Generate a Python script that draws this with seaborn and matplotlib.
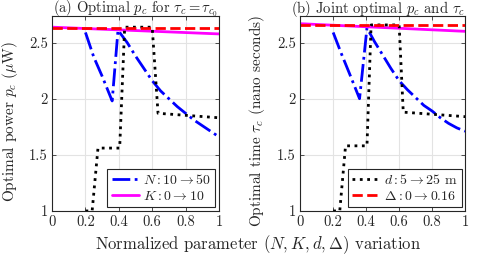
import numpy as np
import pandas as pd
import matplotlib
matplotlib.use("Agg")
import matplotlib.pyplot as plt
import seaborn as sns

# ---- data ----
# Panel (a)
a_N_x = [0.2, 0.25, 0.3, 0.36, 0.395, 0.45, 0.5, 0.55, 0.6, 0.65, 0.7, 0.75, 0.8, 0.85, 0.9, 0.95, 1.0]
a_N_y = [2.59, 2.37, 2.20, 1.98, 2.61, 2.50, 2.38, 2.27, 2.16, 2.07, 2.00, 1.93, 1.87, 1.81, 1.76, 1.71, 1.66]
a_K_x = [0.0, 1.0]
a_K_y = [2.637, 2.577]
a_d_x = [0.2, 0.24, 0.275, 0.405, 0.435, 0.6, 0.635, 1.0]
a_d_y = [1.0, 1.0, 1.56, 1.56, 2.637, 2.637, 1.87, 1.83]
a_D_x = [0.0, 1.0]
a_D_y = [2.628, 2.628]

# Panel (b)
b_N_x = [0.2, 0.25, 0.3, 0.36, 0.405, 0.45, 0.5, 0.55, 0.6, 0.65, 0.7, 0.75, 0.8, 0.85, 0.9, 0.95, 1.0]
b_N_y = [2.59, 2.40, 2.22, 2.00, 2.63, 2.51, 2.39, 2.27, 2.16, 2.08, 2.01, 1.94, 1.89, 1.83, 1.78, 1.74, 1.71]
b_K_x = [0.0, 1.0]
b_K_y = [2.668, 2.600]
b_d_x = [0.2, 0.24, 0.275, 0.405, 0.43, 0.6, 0.625, 1.0]
b_d_y = [1.0, 1.0, 1.58, 1.58, 2.657, 2.657, 1.88, 1.84]
b_D_x = [0.0, 1.0]
b_D_y = [2.652, 2.652]

labels = [r"$N: 10 \rightarrow 50$", r"$K: 0 \rightarrow 10$",
          r"$d: 5 \rightarrow 25$ m", r"$\Delta: 0 \rightarrow 0.16$"]
xticks = [0, 0.2, 0.4, 0.6, 0.8, 1]
xticklabels = ["0", "0.2", "0.4", "0.6", "0.8", "1"]
yticks = [1, 1.5, 2, 2.5]
yticklabels = ["1", "1.5", "2", "2.5"]

sns.set_theme(style="whitegrid")
plt.rcParams["font.family"] = ["cmr10", "DejaVu Serif"]
plt.rcParams["mathtext.fontset"] = "cm"
plt.rcParams["axes.formatter.use_mathtext"] = True
plt.rcParams["axes.unicode_minus"] = False

fs_tick = 10.5
fs_title = 10.5
fs_ylab = 11
fs_xlab = 12
fs_leg = 10

fig = plt.figure(figsize=(4.78, 2.56), dpi=100)
axL = fig.add_axes([0.109, 0.176, 0.349, 0.763])
axR = fig.add_axes([0.628, 0.176, 0.345, 0.763])

styles = [dict(color=(0, 0, 1), linestyle="-.", linewidth=2.0),
          dict(color=(1, 0, 1), linestyle="-", linewidth=2.0),
          dict(color="black", linestyle=":", linewidth=2.0),
          dict(color=(1, 0, 0), linestyle="--", linewidth=2.0)]

def draw(ax, series):
    lines = []
    for (x, y), st, lab in zip(series, styles, labels):
        df = pd.DataFrame({"x": x, "y": y})
        sns.lineplot(data=df, x="x", y="y", ax=ax, sort=False, estimator=None,
                     label=lab, legend=False, **st)
        lines.append(ax.get_lines()[-1])
    ax.set_xlim(0, 1)
    ax.set_ylim(1, 2.74)
    ax.set_xticks(xticks)
    ax.set_xticklabels(xticklabels, fontsize=fs_tick)
    ax.set_yticks(yticks)
    ax.set_yticklabels(yticklabels, fontsize=fs_tick)
    ax.set_xlabel("")
    ax.set_facecolor("white")
    ax.grid(True, color="#e3e3e3", linewidth=0.8)
    ax.tick_params(direction="in", length=3, width=0.6, color="#333333",
                   top=True, right=True, bottom=True, left=True, pad=3)
    for s in ax.spines.values():
        s.set_color("#262626")
        s.set_linewidth(0.8)
    return lines

linesL = draw(axL, [(a_N_x, a_N_y), (a_K_x, a_K_y), (a_d_x, a_d_y), (a_D_x, a_D_y)])
linesR = draw(axR, [(b_N_x, b_N_y), (b_K_x, b_K_y), (b_d_x, b_d_y), (b_D_x, b_D_y)])

axL.set_title(r"(a) Optimal $p_c$ for $\tau_c = \tau_{c_0}$", fontsize=fs_title, pad=2, x=0.5)
axR.set_title(r"(b) Joint optimal $p_c$ and $\tau_c$", fontsize=fs_title, pad=2, x=0.47)
axL.set_ylabel(r"Optimal power $p_c$ ($\mu$W)", fontsize=fs_ylab)
axR.set_ylabel(r"Optimal time $\tau_c$ (nano seconds)", fontsize=fs_ylab)
axL.yaxis.set_label_coords(-0.19, 0.46)
axR.yaxis.set_label_coords(-0.2, 0.46)

legkw = dict(loc="lower right", fontsize=fs_leg, frameon=True, fancybox=False,
             framealpha=1, edgecolor="#262626", handlelength=2.0,
             borderaxespad=0.25, borderpad=0.3, labelspacing=0.25, handletextpad=0.3)
lgL = axL.legend(linesL[:2], labels[:2], **legkw)
lgR = axR.legend(linesR[2:], labels[2:], **legkw)
for lg in (lgL, lgR):
    lg.get_frame().set_linewidth(0.8)

fig.text(0.54, 0.043, r"Normalized parameter $(N, K, d, \Delta)$ variation",
         ha="center", va="center", fontsize=fs_xlab)

fig.savefig("out.png", dpi=100, facecolor="white")
